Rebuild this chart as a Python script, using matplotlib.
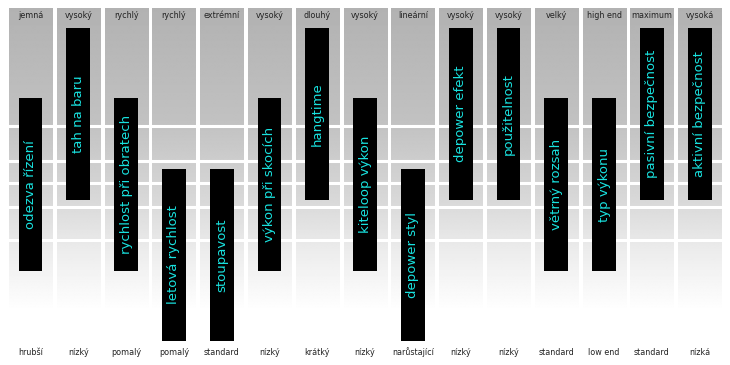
#!/usr/bin/env python3
"""Kite parameter chart: gray gradient columns with black rating bars."""

import numpy as np
import matplotlib.pyplot as plt

# data
params = [
    "odezva řízení", "tah na baru", "rychlost při obratech", "letová rychlost",
    "stoupavost", "výkon při skocích", "hangtime", "kiteloop výkon",
    "depower styl", "depower efekt", "použitelnost", "větrný rozsah",
    "typ výkonu", "pasivní bezpečnost", "aktivní bezpečnost",
]
top_labels = [
    "jemná", "vysoký", "rychlý", "rychlý", "extrémní", "vysoký", "dlouhý",
    "vysoký", "lineární", "vysoký", "vysoký", "velký", "high end",
    "maximum", "vysoká",
]
bottom_labels = [
    "hrubší", "nízký", "pomalý", "pomalý", "standard", "nízký", "krátký",
    "nízký", "narůstající", "nízký", "nízký", "standard", "low end",
    "standard", "nízká",
]
# 1 = low, 2 = middle, 3 = high
levels = [2, 3, 2, 1, 1, 2, 3, 2, 1, 3, 3, 2, 2, 3, 3]

# layout constants (level units on y, column units on x)
BAR_LEN = 2.44
BAR_W = 0.5
COL_W = 0.9
COL_TOP, COL_BOT = 4.489, 0.191
GRID_Y = [2.830, 2.333, 2.021, 1.681, 1.213]
CYAN = "#19e3e0"

fig = plt.figure(figsize=(7.3, 3.65), dpi=100)
ax = fig.add_axes([0, 0, 1, 1])
# column centre i sits at pixel 30.5 + 47.8 * i
ax.set_xlim(-30.5 / 47.8, (730 - 30.5) / 47.8)
ax.set_ylim(-0.56, 4.617)
ax.axis("off")

# vertical gradient: gray at top fading to white at the bottom
yy = np.linspace(COL_TOP, COL_BOT, 300)
gy = np.interp(yy, [0.191, 1.06, 1.78, 2.915, 4.489],
               [255, 236, 216, 193, 178])
grad = np.repeat(gy[:, None], 2, axis=1) / 255.0
for i in range(len(params)):
    ax.imshow(grad, cmap="gray", vmin=0, vmax=1, aspect="auto",
              extent=(i - COL_W / 2, i + COL_W / 2, COL_BOT, COL_TOP),
              origin="upper", interpolation="bilinear", zorder=1)

for gyv in GRID_Y:
    ax.axhline(gyv, color="white", lw=2.2, zorder=2)

xs = np.arange(len(params))
bottoms = [lv - BAR_LEN / 2 for lv in levels]
ax.bar(xs, [BAR_LEN] * len(xs), bottom=bottoms, width=BAR_W,
       color="black", zorder=3)

for i, (name, lv) in enumerate(zip(params, levels)):
    ax.text(i, lv, name, rotation=90, ha="center", va="center",
            color=CYAN, fontsize=9.5, family="DejaVu Sans", zorder=4)
    ax.text(i, 4.40, top_labels[i], ha="center", va="center",
            fontsize=5.8, color="#222222", zorder=4)
    ax.text(i, -0.376, bottom_labels[i], ha="center", va="center",
            fontsize=5.8, color="#222222", zorder=4)

fig.savefig("out.png", dpi=100)
